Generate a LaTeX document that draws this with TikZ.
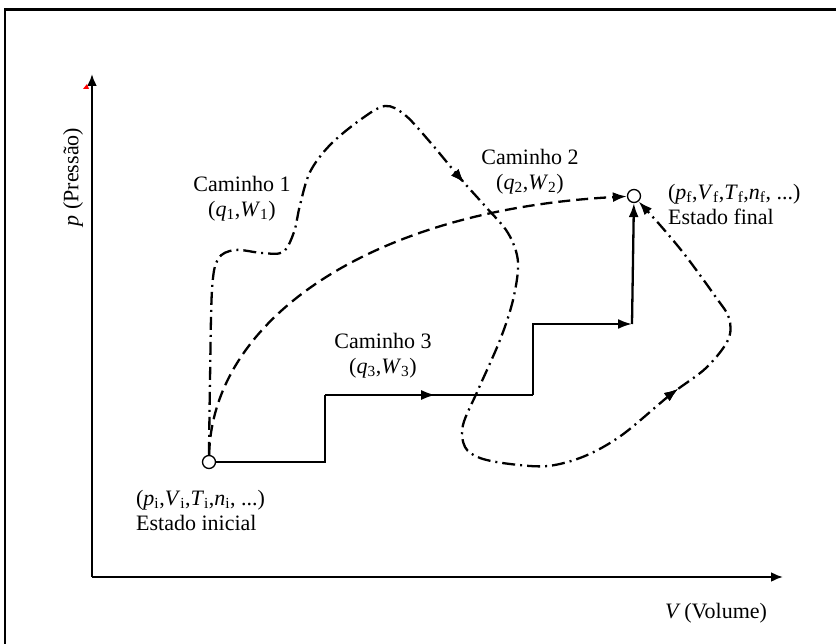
\documentclass[tikz,border=0pt]{standalone}
\usepackage{fontspec}
\setmainfont{Liberation Serif}
\usetikzlibrary{arrows.meta,decorations.markings}

\begin{document}
\begin{tikzpicture}[x=1pt,y=-1pt,line width=2.3pt,
  tipend/.style={-{Latex[length=14pt,width=10pt]}},
  lbl/.style={font=\fontsize{22}{25}\selectfont,inner sep=0pt,align=center},
  state/.style={circle,draw,fill=white,line width=1.3pt,minimum size=13pt,inner sep=0pt},
  dashdot/.style={dash pattern=on 13pt off 5pt on 2pt off 5pt},
  dashline/.style={dash pattern=on 12pt off 6pt},
  midtip/.style={postaction={decorate},decoration={markings,
    mark=at position #1 with {\pgfsetdash{}{0pt}\arrow{Latex[length=14pt,width=10pt]}}}}
]
\useasboundingbox (0,0) rectangle (836,644);

% frame
\draw[line width=2.4pt] (836,9.5) -- (5,9.5) -- (5,644);

% axes
\coordinate (o) at (92,577);
\coordinate (ytop) at (92,74);
\coordinate (xend) at (783,577);
\draw[-{Latex[length=12pt,width=10pt]}] (o) -- (ytop);
\draw[-{Latex[length=12pt,width=10pt]}] (o) -- (xend);
\fill[red] (83,89) -- (89,89) -- (87,84) -- cycle;

\node[lbl,rotate=90] (ylab) at (73,177) {\textit{p} (Pressão)};
\node[lbl] (xlab) at (716,613) {\textit{V}\,(Volume)};

% states
\node[state] (init) at (209,462) {};
\node[state] (fin) at (634,196) {};

\node[lbl,anchor=west,align=left] (initlab) at (135,510)
  {(\textit{p}\textsubscript{i},\textit{V}\textsubscript{i},\textit{T}\textsubscript{i},\textit{n}\textsubscript{i}, ...)\\Estado inicial};
\node[lbl,anchor=west,align=left] (finlab) at (667,204)
  {(\textit{p}\textsubscript{f},\textit{V}\textsubscript{f},\textit{T}\textsubscript{f},\textit{n}\textsubscript{f}, ...)\\Estado final};

% path labels
\node[lbl] (cam1) at (242,199) {Caminho 1\\(\textit{q}\textsubscript{1},\textit{W}\textsubscript{1})};
\node[lbl] (cam2) at (530,172) {Caminho 2\\(\textit{q}\textsubscript{2},\textit{W}\textsubscript{2})};
\node[lbl] (cam3) at (383,356) {Caminho 3\\(\textit{q}\textsubscript{3},\textit{W}\textsubscript{3})};

% path 3: staircase
\coordinate (s1) at (325,462);
\coordinate (s2) at (325,395);
\coordinate (s3) at (533,395);
\coordinate (s4) at (533,324);
\coordinate (s5) at (632,324);
\draw (init) -- (s1) -- (s2);
\draw[midtip=0.53] (s2) -- (s3);
\draw[tipend] (s3) -- (s4) -- (s5);
\draw[tipend] (s5) -- (fin);

% path 2: dashed curve
\draw[dashline,tipend] (init) .. controls (212,320) and (370,210) .. (fin);

% path 1: dash-dot loop
\draw[dashdot,tipend,midtip=565pt,
  decoration={markings,mark=at position 1100pt with {\pgfsetdash{}{0pt}\arrow{Latex[length=14pt,width=10pt]}}},
  postaction={decorate}]
  plot[smooth,tension=0.55] coordinates {
   (init.north) (210,380) (212,290) (218,259) (235,250) (262,253) (283,252)
   (294,232) (300,205) (310,172) (330,145) (360,120) (385,106) (405,115)
   (430,142) (460,178) (485,206) (508,233) (518,262) (513,300) (500,340)
   (478,390) (463,425) (465,447) (480,458) (510,464) (548,466) (585,456)
   (622,435) (670,395) (706,368) (728,340) (729,318) (715,296) (685,255)
   (660,225) (fin.-50)};
\end{tikzpicture}
\end{document}
